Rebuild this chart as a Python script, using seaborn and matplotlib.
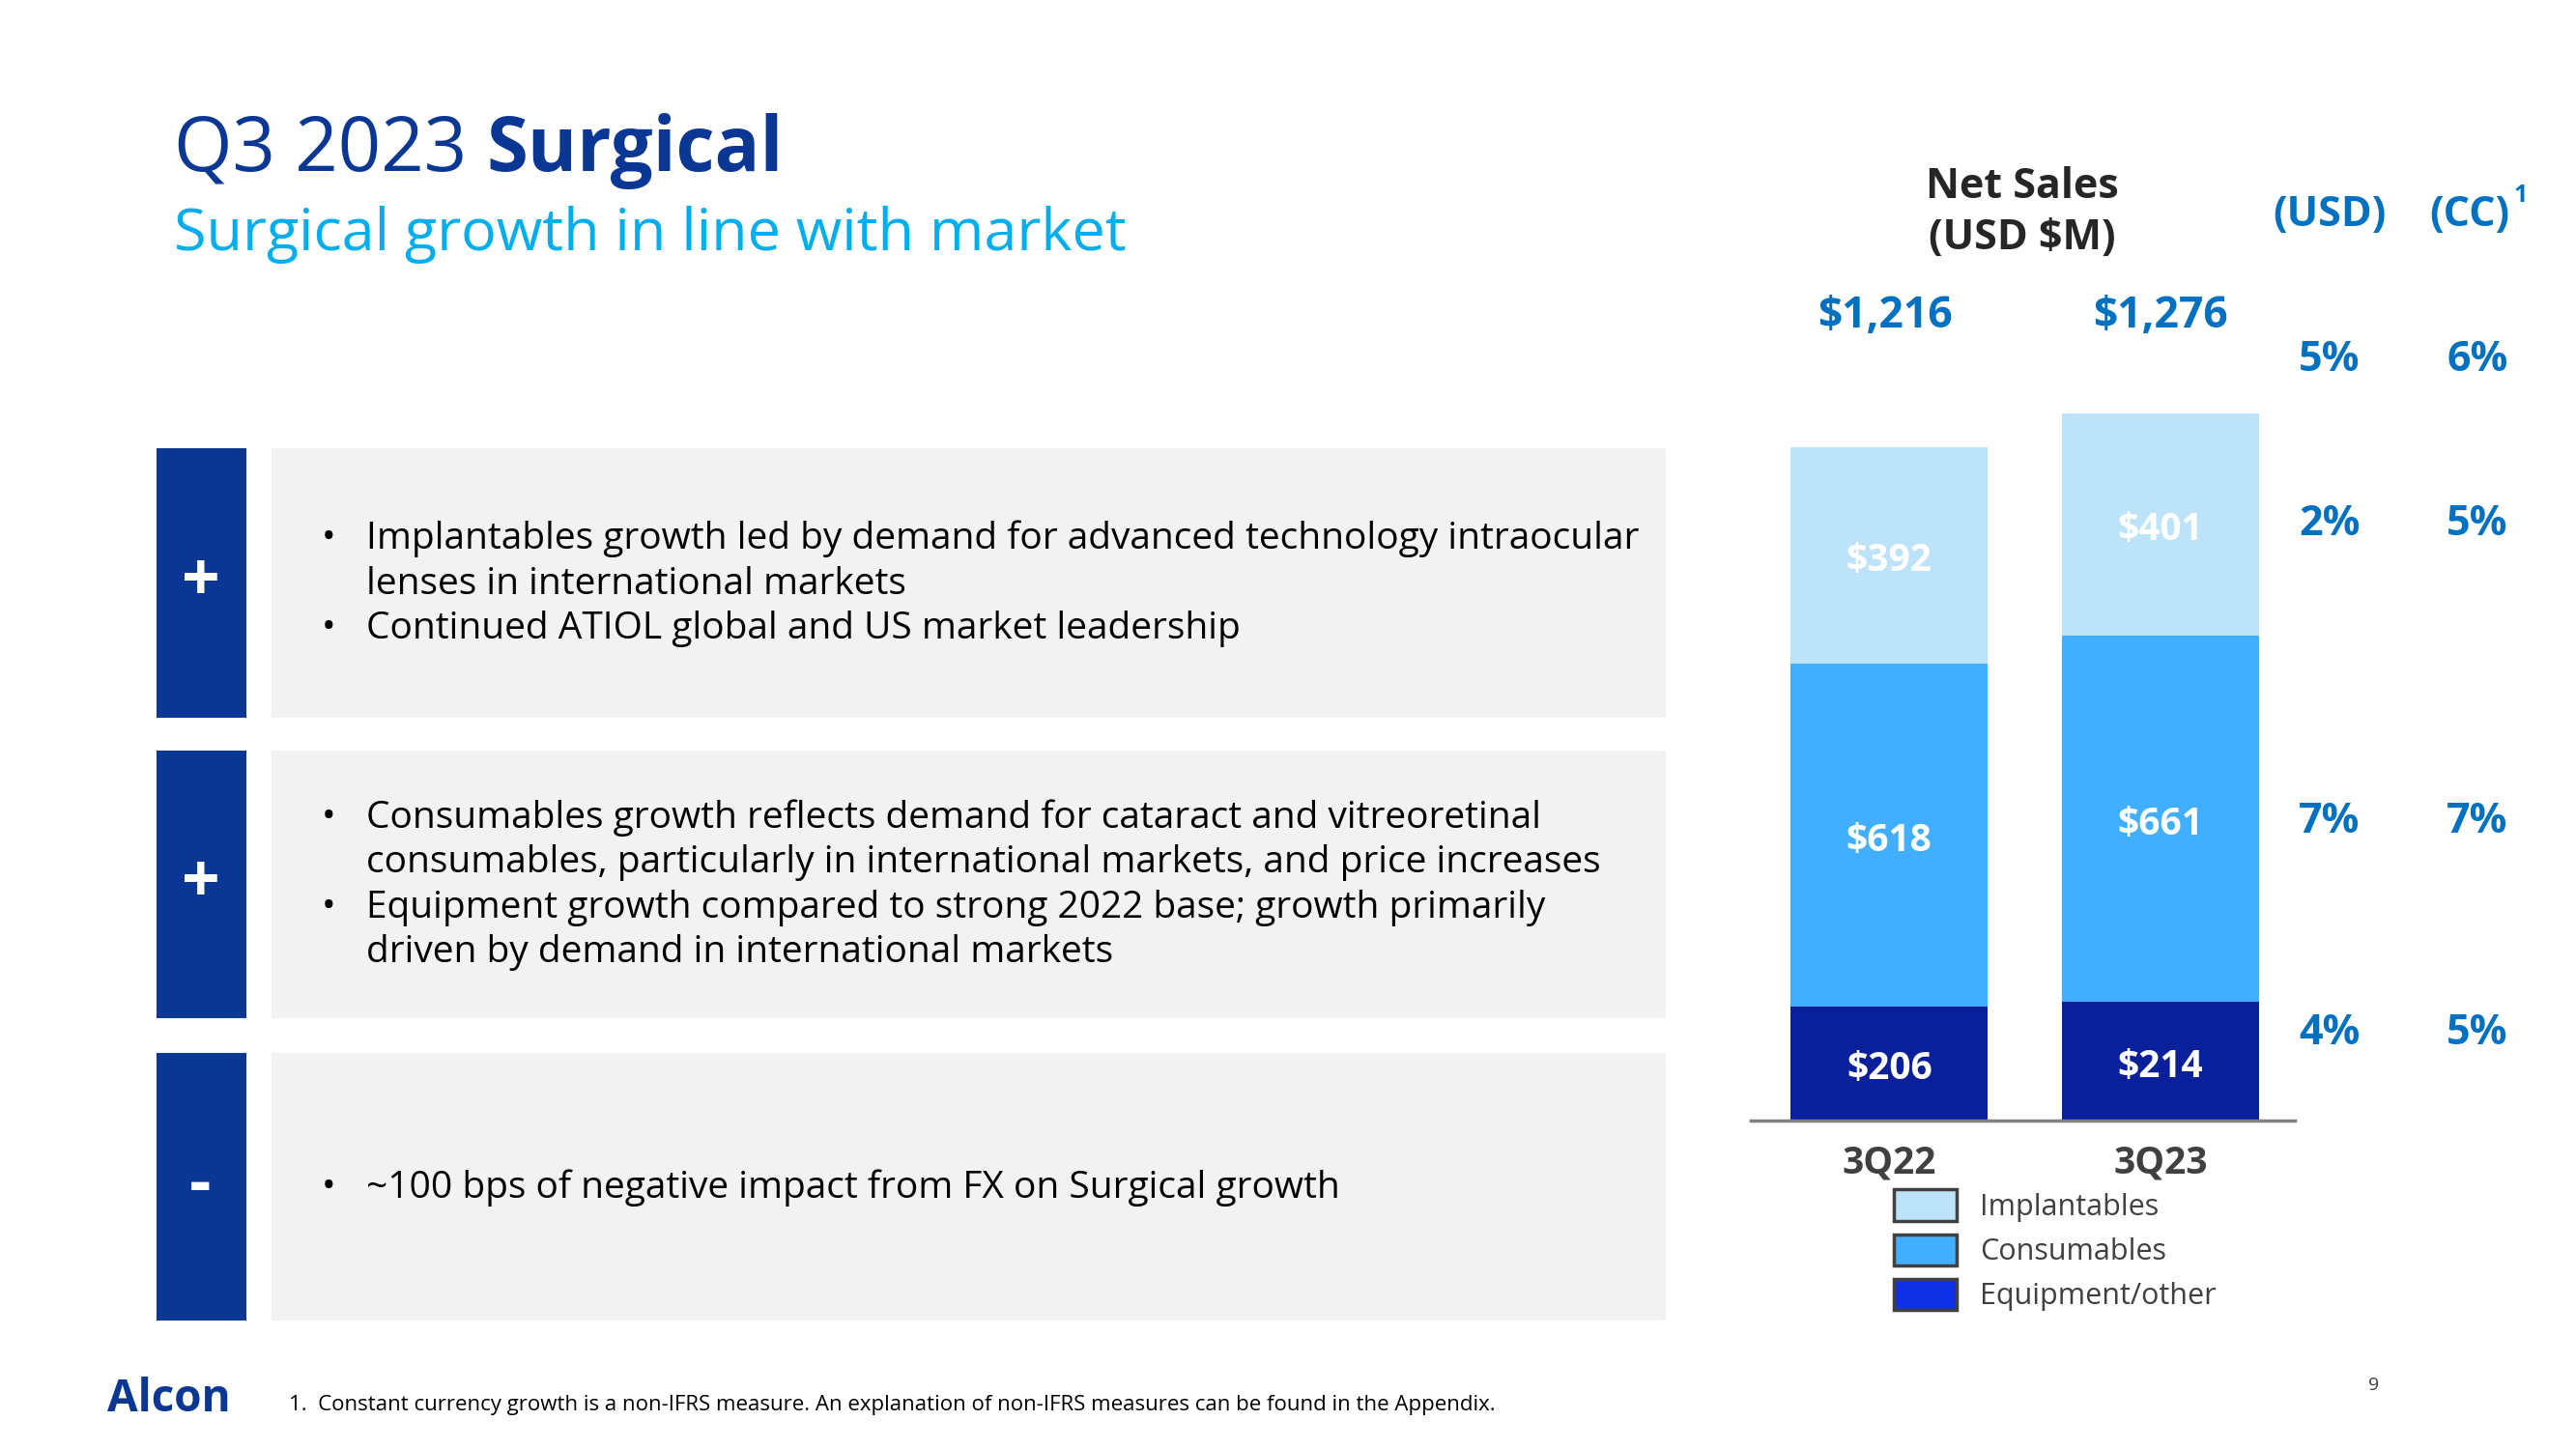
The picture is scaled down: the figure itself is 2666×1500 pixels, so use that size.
import matplotlib.pyplot as plt
import matplotlib.patches as mpatches
import matplotlib.transforms as mtransforms
import pandas as pd
import seaborn as sns

# --- data ---
quarters = ["3Q22", "3Q23"]
implantables = [392, 401]
consumables = [618, 661]
equipment = [206, 214]
segment_names = ["Implantables", "Consumables", "Equipment/other"]
usd_growth = ["5%", "2%", "7%", "4%"]  # total, implantables, consumables, equipment
cc_growth = ["6%", "5%", "7%", "5%"]

bullets_1 = [
    ("•", "Implantables growth led by demand for advanced technology intraocular"),
    ("", "lenses in international markets"),
    ("•", "Continued ATIOL global and US market leadership"),
]
bullets_2 = [
    ("•", "Consumables growth reflects demand for cataract and vitreoretinal"),
    ("", "consumables, particularly in international markets, and price increases"),
    ("•", "Equipment growth compared to strong 2022 base; growth primarily"),
    ("", "driven by demand in international markets"),
]
bullets_3 = [("•", "~100 bps of negative impact from FX on Surgical growth")]
signs = ["+", "+", "-"]

# --- colours ---
DARK_BLUE = "#0A3694"
SKY = "#00AEEF"
VAL_BLUE = "#0070C0"
C_IMPL = "#BDE3FB"
C_CONS = "#42AEFF"
C_EQUIP = "#0A209A"
C_EQUIP_LEG = "#1030E6"
GREY_TXT = "#404040"

sns.set_theme(style="white")
plt.rcParams["font.family"] = ["Open Sans", "DejaVu Sans"]

W, H = 1568, 882  # layout measured on the preview, converted to figure fractions


def fx(x):
    return x / W


def fy(y):
    return 1 - y / H


def ty(y):
    # text is centred on its full box (incl. descent), nudge so glyphs sit right
    return fy(y + 3)


fig = plt.figure(figsize=(26.66, 15), dpi=100)

# --- title ---
t1 = fig.text(fx(106), ty(89), "Q3 2023 ", fontsize=56, color=DARK_BLUE, va="center")
fig.canvas.draw()
bb = t1.get_window_extent(fig.canvas.get_renderer())
fig.text(bb.x1 / fig.bbox.width, ty(89), "Surgical", fontsize=56, fontweight="bold",
         color=DARK_BLUE, va="center")
fig.text(fx(106), ty(140), "Surgical growth in line with market", fontsize=44,
         color=SKY, va="center")

# --- left panels ---
boxes = [(273, 437, bullets_1, [325, 353, 380]),
         (457, 620, bullets_2, [495, 522, 550, 577]),
         (641, 804, bullets_3, [720])]
for (top, bot, lines, ys), sign in zip(boxes, signs):
    fig.add_artist(mpatches.Rectangle((fx(95), fy(bot)), fx(150) - fx(95), fy(top) - fy(bot),
                                      transform=fig.transFigure, color=DARK_BLUE, lw=0))
    fig.add_artist(mpatches.Rectangle((fx(165), fy(bot)), fx(1014) - fx(165), fy(top) - fy(bot),
                                      transform=fig.transFigure, color="#F2F2F2", lw=0))
    fig.text(fx(122), fy((top + bot) / 2), sign, fontsize=50, fontweight="bold",
             color="white", ha="center", va="center")
    for (b, txt), y in zip(lines, ys):
        if b:
            fig.text(fx(200), ty(y), b, fontsize=28, color="black", ha="center", va="center")
        fig.text(fx(223), ty(y), txt, fontsize=28, color="black", va="center")

# --- stacked bar chart ---
df = pd.DataFrame({"quarter": quarters, "impl": implantables,
                   "cons": consumables, "equip": equipment})
df["lvl1"] = df["equip"]
df["lvl2"] = df["equip"] + df["cons"]
df["lvl3"] = df["lvl2"] + df["impl"]

ax = fig.add_axes([fx(1066), fy(682), fx(1397) - fx(1066), fy(170) - fy(682)])
for col, c in [("lvl3", C_IMPL), ("lvl2", C_CONS), ("lvl1", C_EQUIP)]:
    sns.barplot(data=df, x="quarter", y=col, color=c, saturation=1, width=0.727,
                linewidth=0, ax=ax)

ax.set_xlim(-0.509, 1.497)
ax.set_ylim(0, 512 / 0.3372)
ax.set_xlabel("")
ax.set_ylabel("")
ax.set_yticks([])
for s in ["left", "top", "right"]:
    ax.spines[s].set_visible(False)
ax.spines["bottom"].set_color("#808080")
ax.spines["bottom"].set_linewidth(2.5)
ax.tick_params(axis="x", length=0, pad=18)
for lab in ax.get_xticklabels():
    lab.set_fontsize(28)
    lab.set_fontweight("bold")
    lab.set_color(GREY_TXT)

seg_tr = mtransforms.offset_copy(ax.transData, fig=fig, y=-4, units="points")
tot_tr = mtransforms.offset_copy(ax.get_xaxis_transform(), fig=fig, y=-3, units="points")
for i, row in df.iterrows():
    for lo, hi, v in [(0, row["lvl1"], row["equip"]),
                      (row["lvl1"], row["lvl2"], row["cons"]),
                      (row["lvl2"], row["lvl3"], row["impl"])]:
        ax.text(i, (lo + hi) / 2, f"${v}", transform=seg_tr, ha="center", va="center",
                fontsize=28, fontweight="bold", color="white")
    ax.text(i - 0.015 * (1 - i), 0.961, f"${row['lvl3']:,}", transform=tot_tr,
            ha="center", va="center", fontsize=32, fontweight="bold", color=VAL_BLUE)

handles = [mpatches.Patch(facecolor=c, edgecolor="#404040", linewidth=2.5)
           for c in [C_IMPL, C_CONS, C_EQUIP_LEG]]
fig.legend(handles, segment_names, loc="upper left", bbox_to_anchor=(fx(1153), fy(724)),
           frameon=False, fontsize=22, handlelength=2.1, handleheight=1.25,
           handletextpad=0.8, labelspacing=0.42, borderpad=0, borderaxespad=0,
           labelcolor=GREY_TXT)

# --- headers and growth columns ---
fig.text(fx(1231), ty(111), "Net Sales", fontsize=31, fontweight="bold", ha="center", va="center")
fig.text(fx(1231), ty(142), "(USD $M)", fontsize=31, fontweight="bold", ha="center", va="center")
fig.text(fx(1418), ty(128), "(USD)", fontsize=31, fontweight="bold", color=VAL_BLUE,
         ha="center", va="center")
fig.text(fx(1503), ty(128), "(CC)", fontsize=31, fontweight="bold", color=VAL_BLUE,
         ha="center", va="center")
fig.text(fx(1534), ty(116), "1", fontsize=18, fontweight="bold", color=VAL_BLUE,
         ha="center", va="center")
for y, u, c in zip([216, 316, 497, 626], usd_growth, cc_growth):
    fig.text(fx(1418), ty(y), u, fontsize=31, fontweight="bold", color=VAL_BLUE,
             ha="center", va="center")
    fig.text(fx(1508), ty(y), c, fontsize=31, fontweight="bold", color=VAL_BLUE,
             ha="center", va="center")

# --- footer ---
fig.text(fx(65), ty(849), "Alcon", fontsize=33, fontweight="bold", color=DARK_BLUE, va="center")
fig.text(fx(176), ty(852), "1.  Constant currency growth is a non-IFRS measure. "
         "An explanation of non-IFRS measures can be found in the Appendix.",
         fontsize=16, color="black", va="center")
fig.text(fx(1445), ty(840), "9", fontsize=14, color=GREY_TXT, ha="center", va="center")

fig.savefig("out.png", dpi=100)
